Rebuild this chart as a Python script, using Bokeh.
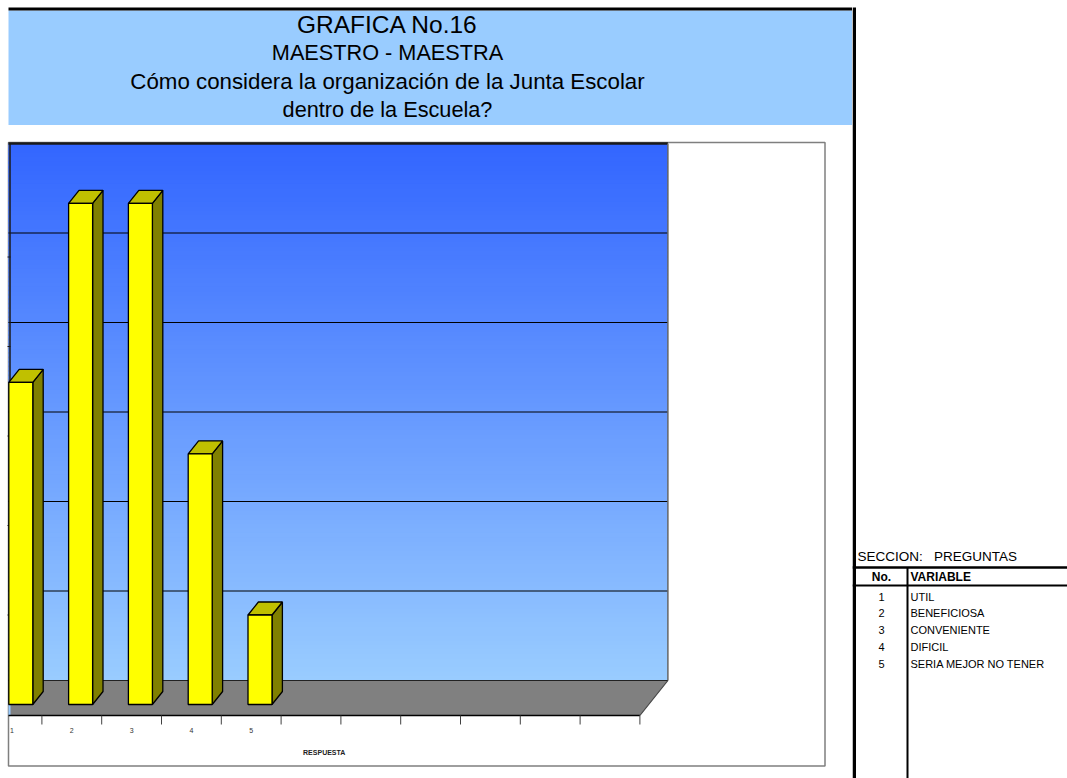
from bokeh.plotting import figure
from bokeh.layouts import row, column
from bokeh.models import Range1d
from bokeh.embed import file_html
from bokeh.resources import INLINE
from bokeh.core.properties import value

# ---------------- data ----------------
categories = ["1", "2", "3", "4", "5"]
counts = [18, 28, 28, 14, 5]
variables = ["UTIL", "BENEFICIOSA", "CONVENIENTE", "DIFICIL", "SERIA MEJOR NO TENER"]
title_lines = ["GRAFICA No.16", "MAESTRO - MAESTRA",
               "Cómo considera la organización de la Junta Escolar",
               "dentro de la Escuela?"]
axis_title = "RESPUESTA"
section_label = "SECCION:\u00a0\u00a0\u00a0PREGUNTAS"
table_header = ["No.", "VARIABLE"]
n_slots = 11          # category slots on the axis
value_max = 30
value_step = 5

# ---------------- layout constants ----------------
FONT = "Liberation Sans"
LEFT_W, RIGHT_W = 852, 215
TITLE_H, CHART_H = 125, 653
TOTAL_H = TITLE_H + CHART_H

KX = 59.8     # px per category
KY = 17.9     # px per value unit
X0_PX = 11.5  # px of category 1 centre
Y0_PX = 590   # local px of value 0 on the front plane

x_start = 1 - X0_PX / KX
x_end = x_start + LEFT_W / KX
y_end = Y0_PX / KY
y_start = y_end - CHART_H / KY


def px2x(px):
    return x_start + px / KX


def px2y(py):
    return y_end - py / KY


DX = 28 / KX      # full-depth shift in category units
DY = 35 / KY      # full-depth shift in value units
FA, FB = 11 / 35, 24 / 35   # bar front / back depth fractions
BW = 24 / KX      # bar width


def bare(fig):
    fig.grid.visible = False
    fig.background_fill_color = "white"
    fig.border_fill_color = "white"
    return fig


# ---------------- title figure ----------------
t = bare(figure(width=LEFT_W, height=TITLE_H, x_range=Range1d(0, LEFT_W), y_range=Range1d(TITLE_H, 0),
                output_backend="svg", toolbar_location=None, min_border=0,
                x_axis_type=None, y_axis_type=None, outline_line_color=None))
t.quad(left=8, right=LEFT_W, top=10, bottom=TITLE_H, fill_color="#99CCFF", line_color=None)
t.quad(left=8, right=LEFT_W, top=7, bottom=10, fill_color="black", line_color=None)
title_y = [24, 52, 81, 109]
title_sizes = ["24.5px", "21.7px", "22.3px", "21.7px"]
for txt, yy, fs in zip(title_lines, title_y, title_sizes):
    t.text(x=[387], y=[yy], text=[txt], text_font=value(FONT), text_font_size=fs,
           text_align="center", text_baseline="middle", text_color="black")

# ---------------- chart figure ----------------
p = bare(figure(width=LEFT_W, height=CHART_H, x_range=Range1d(x_start, x_end), y_range=Range1d(y_start, y_end),
                output_backend="svg", toolbar_location=None, min_border=0,
                x_axis_type=None, y_axis_type=None, outline_line_color=None))

# chart frame
p.quad(left=px2x(8), right=px2x(824.5), top=px2y(17), bottom=px2y(640.5),
       fill_color="white", line_color="#7f7f7f", line_width=1.5)

# back wall gradient
wall_l = px2x(8)
wall_r = n_slots + 0.5 + DX
wall_b = DY
wall_t = value_max + DY
N = 120
c_top = (0x33, 0x66, 0xFF)
c_bot = (0x99, 0xCC, 0xFF)
lefts, rights, tops, bots, cols = [], [], [], [], []
step = (wall_t - wall_b) / N
for k in range(N):
    f = k / (N - 1)
    tt = wall_t - step * k
    bb = max(wall_b, tt - step * 1.6)
    cc = tuple(int(round(c_top[j] + (c_bot[j] - c_top[j]) * f)) for j in range(3))
    lefts.append(wall_l); rights.append(wall_r); tops.append(tt); bots.append(bb)
    cols.append("#%02x%02x%02x" % cc)
p.quad(left=lefts, right=rights, top=tops, bottom=bots, fill_color=cols, line_color=None)

# gridlines on the wall
grid_vals = list(range(value_step, value_max, value_step))
p.segment(x0=[wall_l] * len(grid_vals), x1=[wall_r] * len(grid_vals),
          y0=[v + DY for v in grid_vals], y1=[v + DY for v in grid_vals],
          line_color="black", line_width=1)
p.segment(x0=[wall_l], x1=[wall_r], y0=[wall_t], y1=[wall_t], line_color="#1a1a1a", line_width=2.5)
p.segment(x0=[wall_r], x1=[wall_r], y0=[wall_b], y1=[wall_t], line_color="#666666", line_width=1.5)
p.segment(x0=[px2x(9.5)], x1=[px2x(9.5)], y0=[0], y1=[wall_t], line_color="#1a1a1a", line_width=1.5)
# value-axis tick stubs at the left edge
p.segment(x0=[px2x(7)] * len(grid_vals), x1=[px2x(10)] * len(grid_vals),
          y0=[v + FA * DY for v in grid_vals], y1=[v + FA * DY for v in grid_vals],
          line_color="#1a1a1a", line_width=1)

# floor
p.patch(x=[wall_l, n_slots + 0.5, n_slots + 0.5 + DX, wall_l],
        y=[0, 0, DY, DY], fill_color="#808080", line_color=None)
p.quad(left=[wall_l], right=[px2x(10)], bottom=[0], top=[FA * DY], fill_color="#99CCFF", line_color=None)
p.segment(x0=[wall_l], x1=[wall_r], y0=[DY], y1=[DY], line_color="#222222", line_width=1.2)
p.segment(x0=[wall_l], x1=[n_slots + 0.5], y0=[0], y1=[0], line_color="black", line_width=1.5)
p.segment(x0=[n_slots + 0.5], x1=[n_slots + 0.5 + DX], y0=[0], y1=[DY], line_color="#444444", line_width=1.2)

# bars
xpos = [i + 1 for i in range(len(counts))]
fx, fy, tx, ty, sx, sy = [], [], [], [], [], []
for xc, v in zip(xpos, counts):
    l = xc - BW / 2
    r = xc + BW / 2
    fx.append([l + FA * DX, r + FA * DX, r + FA * DX, l + FA * DX])
    fy.append([FA * DY, FA * DY, v + FA * DY, v + FA * DY])
    tx.append([l + FA * DX, r + FA * DX, r + FB * DX, l + FB * DX])
    ty.append([v + FA * DY, v + FA * DY, v + FB * DY, v + FB * DY])
    sx.append([r + FA * DX, r + FB * DX, r + FB * DX, r + FA * DX])
    sy.append([FA * DY, FB * DY, v + FB * DY, v + FA * DY])
p.patches(xs=sx, ys=sy, fill_color="#808000", line_color="black", line_width=1.3)
p.patches(xs=tx, ys=ty, fill_color="#C0C000", line_color="black", line_width=1.3)
p.patches(xs=fx, ys=fy, fill_color="#FFFF00", line_color="black", line_width=1.3)

# category ticks and labels
tick_x = [k + 0.5 for k in range(1, n_slots + 1)]
p.segment(x0=tick_x, x1=tick_x, y0=[0] * len(tick_x), y1=[-9 / KY] * len(tick_x),
          line_color="#404040", line_width=1)
p.text(x=xpos, y=[-15 / KY] * len(xpos), text=categories, text_font=value(FONT),
       text_font_size="7px", text_align="center", text_baseline="middle", text_color="#333333")
p.text(x=[(wall_l + n_slots + 0.5) / 2], y=[px2y(627)], text=[axis_title], text_font=value(FONT),
       text_font_size="7px", text_font_style="bold", text_align="center", text_baseline="middle",
       text_color="#222222")

# ---------------- right table figure ----------------
q = bare(figure(width=RIGHT_W, height=TOTAL_H, x_range=Range1d(0, RIGHT_W), y_range=Range1d(TOTAL_H, 0),
                output_backend="svg", toolbar_location=None, min_border=0,
                x_axis_type=None, y_axis_type=None, outline_line_color=None))
q.quad(left=0, right=3.5, top=7, bottom=TOTAL_H, fill_color="black", line_color=None)
q.text(x=[5], y=[556], text=[section_label], text_font=value(FONT), text_font_size="13.5px",
       text_align="left", text_baseline="middle", text_color="black")
q.segment(x0=[0], x1=[RIGHT_W], y0=[567], y1=[567], line_color="black", line_width=2.5)
q.segment(x0=[0], x1=[RIGHT_W], y0=[585], y1=[585], line_color="black", line_width=2)
q.segment(x0=[55], x1=[55], y0=[567], y1=[TOTAL_H], line_color="black", line_width=2)
q.text(x=[29], y=[576], text=[table_header[0]], text_font=value(FONT), text_font_size="12px",
       text_font_style="bold", text_align="center", text_baseline="middle", text_color="black")
q.text(x=[58], y=[576], text=[table_header[1]], text_font=value(FONT), text_font_size="12px",
       text_font_style="bold", text_align="left", text_baseline="middle", text_color="black")
row_y = [596 + 16.75 * k for k in range(len(variables))]
q.text(x=[29] * len(categories), y=row_y, text=categories, text_font=value(FONT), text_font_size="11px",
       text_align="center", text_baseline="middle", text_color="black")
q.text(x=[58] * len(variables), y=row_y, text=variables, text_font=value(FONT), text_font_size="11px",
       text_align="left", text_baseline="middle", text_color="black")

layout = row(column(t, p, spacing=0), q, spacing=0)
open("out.html", "w").write(file_html(layout, INLINE))
